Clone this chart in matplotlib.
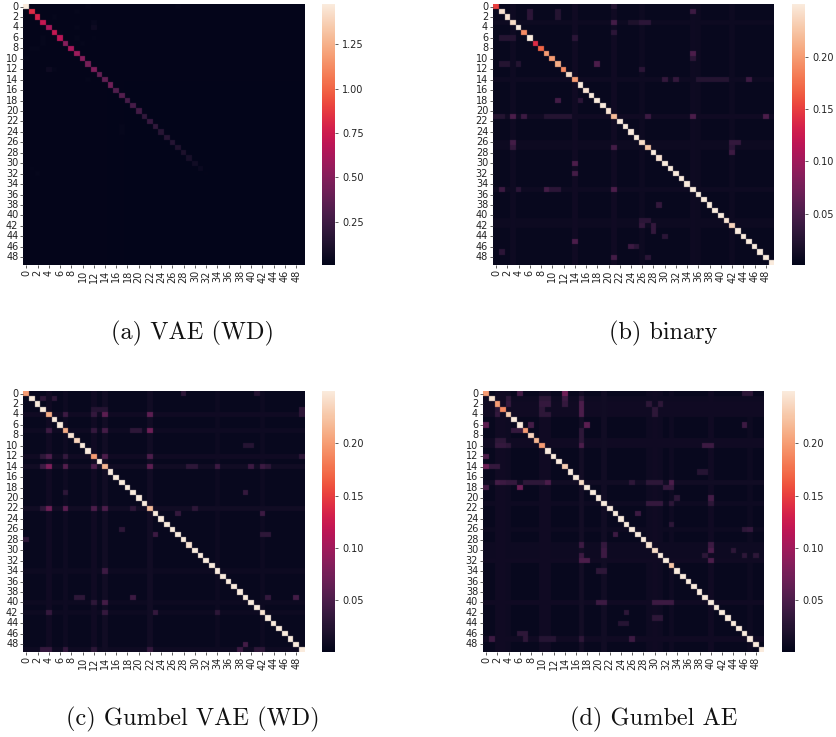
import numpy as np
import matplotlib
matplotlib.use("Agg")
import matplotlib.pyplot as plt
import seaborn as sns

N = 50
labels = list(range(N))

# ---- diagonal values
vae_diag = [1.477, .82, .78, .72, .62, .72, .68, .50, .62, .58, .50, .45, .48, .38, .37, .42, .32, .33, .28, .28,
            .26, .20, .22, .20, .16, .16, .15, .13, .12, .10, .07, .05, .012, .008, .007, .007, .006, .006, .006, .006,
            .006, .006, .006, .006, .006, .006, .006, .006, .006, .006]
binary_diag = [.15, .245, .245, .24, .25, .19, .25, .14, .17, .20, .20, .21, .19, .24, .20, .25, .245, .25, .25, .25,
               .245, .22, .25, .25, .25, .25, .24, .225, .25, .245, .25, .25, .25, .25, .25, .25, .25, .25, .25, .25,
               .25, .245, .235, .25, .25, .25, .25, .25, .25, .25]
gumbel_vae_diag = [.20, .25, .25, .25, .21, .25, .25, .21, .245, .235, .25, .25, .20, .25, .215, .25, .25, .25, .25, .25,
                   .25, .25, .22, .25, .25, .25, .25, .25, .25, .245, .25, .25, .25, .25, .25, .25, .25, .25, .25, .25,
                   .25, .25, .245, .25, .25, .25, .25, .25, .25, .25]
gumbel_ae_diag = [.20, .245, .20, .19, .23, .25, .25, .20, .235, .215, .20, .25, .25, .25, .23, .25, .25, .24, .25, .25,
                  .25, .25, .25, .25, .25, .25, .25, .25, .25, .245, .24, .25, .25, .225, .25, .25, .25, .25, .25, .25,
                  .25, .25, .25, .25, .25, .25, .25, .25, .25, .25]

# ---- background level of each panel
vae_back, binary_back, gumbel_vae_back, gumbel_ae_back = .006, .006, .006, .006

# ---- faintly lighter rows / columns seen in each panel (index, value)
vae_rows = [(r, .012) for r in (0, 1, 2, 3, 4, 5, 6, 7, 8, 9, 10, 11, 12, 13, 14)]
vae_cols = [(c, .012) for c in (0, 1, 2, 3, 4, 5, 6, 7, 8, 9, 10, 11, 12, 13, 14, 17)]
binary_rows = [(3, .009), (14, .01), (21, .011), (26, .009), (27, .009), (35, .01), (41, .009), (42, .009)]
binary_cols = [(3, .01), (14, .011), (21, .011), (26, .009), (35, .01), (36, .009), (42, .009)]
gumbel_vae_rows = [(4, .011), (7, .01), (12, .011), (14, .012), (22, .012), (34, .009), (40, .009), (42, .009), (49, .01)]
gumbel_vae_cols = [(4, .011), (7, .01), (12, .011), (14, .012), (22, .012), (34, .009), (42, .009)]
gumbel_ae_rows = [(1, .01), (2, .011), (3, .011), (4, .011), (9, .011), (10, .011), (17, .012), (21, .01), (26, .009),
                  (29, .01), (30, .01), (31, .01), (32, .011), (40, .011), (47, .011)]
gumbel_ae_cols = [(2, .011), (3, .011), (4, .01), (10, .011), (11, .011), (17, .013), (21, .012), (29, .01), (30, .011),
                  (31, .01), (33, .01), (40, .011), (47, .009)]

# ---- visible off-diagonal cells (row, column, value)
vae_cells = [(4, 12, .06), (3, 12, .035), (12, 4, .06), (5, 6, .025), (4, 9, .025), (8, 1, .025), (8, 2, .025), (1, 9, .025),
             (2, 5, .025), (6, 3, .025), (7, 3, .025), (6, 9, .025), (7, 10, .025), (12, 5, .025), (14, 11, .025), (0, 11, .025),
             (0, 27, .025), (23, 17, .025), (24, 17, .025), (32, 2, .025), (31, 1, .02), (10, 0, .025), (6, 12, .02)]
binary_cells = [(1, 6, .03), (2, 6, .03), (1, 11, .025), (2, 11, .025), (1, 35, .04), (0, 21, .025), (3, 21, .045),
                (3, 26, .03), (3, 27, .03), (3, 24, .02), (3, 25, .02), (5, 21, .03), (6, 1, .025), (6, 2, .025), (6, 3, .025),
                (6, 14, .03), (9, 35, .05), (10, 35, .03), (11, 1, .025), (11, 2, .025), (11, 4, .025), (11, 18, .05),
                (12, 26, .03), (14, 32, .035), (14, 30, .035), (14, 45, .04), (14, 36, .025), (14, 37, .025), (14, 38, .025),
                (14, 39, .025), (14, 40, .025), (14, 41, .025), (18, 11, .045), (18, 15, .03), (21, 3, .05), (21, 5, .04),
                (21, 0, .025), (21, 1, .025), (21, 27, .04), (21, 35, .05), (21, 48, .05), (21, 9, .025), (21, 10, .025),
                (21, 11, .025), (21, 12, .025), (21, 13, .025), (26, 3, .045), (27, 3, .035), (27, 21, .045), (26, 42, .035),
                (26, 43, .035), (27, 42, .03), (28, 42, .04), (30, 14, .05), (32, 14, .045), (35, 1, .04), (35, 4, .03),
                (35, 9, .045), (35, 10, .03), (35, 11, .03), (35, 21, .05), (38, 29, .035), (44, 30, .03), (45, 14, .05),
                (46, 24, .04), (46, 25, .03), (48, 21, .045), (48, 27, .03), (47, 1, .03), (42, 26, .035), (42, 28, .035),
                (43, 28, .035), (41, 26, .03), (41, 27, .03)]
gumbel_vae_cells = [(4, 12, .035), (4, 14, .06), (4, 22, .06), (3, 12, .025), (3, 13, .025), (3, 14, .025), (4, 7, .04),
                    (7, 4, .04), (7, 12, .035), (7, 14, .045), (7, 22, .07), (12, 4, .05), (12, 3, .03), (12, 7, .035),
                    (12, 14, .05), (12, 22, .05), (14, 4, .08), (14, 3, .04), (14, 7, .055), (14, 12, .05), (14, 22, .06),
                    (14, 29, .03), (14, 30, .03), (14, 34, .04), (14, 40, .04), (14, 42, .04), (14, 43, .03), (22, 4, .07),
                    (22, 7, .06), (22, 3, .03), (22, 12, .05), (22, 14, .05), (22, 19, .03), (22, 30, .03), (23, 42, .04),
                    (23, 27, .035), (27, 23, .04), (28, 0, .03), (34, 14, .04), (40, 14, .045), (39, 19, .04), (39, 9, .03),
                    (39, 10, .03), (40, 12, .03), (42, 14, .035), (42, 23, .035), (42, 4, .035), (42, 34, .03), (49, 3, .035),
                    (49, 4, .035), (49, 7, .035), (49, 12, .03), (49, 22, .035), (49, 38, .04), (49, 41, .03), (49, 42, .03),
                    (48, 39, .045), (39, 48, .045), (39, 43, .035), (19, 7, .03), (19, 39, .035), (7, 19, .03), (7, 20, .03),
                    (10, 39, .025), (10, 40, .025), (26, 17, .03), (27, 42, .03), (27, 43, .03), (4, 49, .03), (12, 49, .03),
                    (3, 49, .03), (1, 3, .03), (1, 5, .03), (0, 28, .03), (0, 41, .025)]
gumbel_ae_cells = [(2, 17, .05), (3, 17, .05), (4, 17, .05), (1, 17, .03), (10, 17, .05), (9, 17, .03), (8, 17, .03), (7, 17, .03),
                   (0, 14, .07), (0, 6, .045), (1, 14, .04), (2, 14, .035), (6, 18, .06), (6, 0, .06), (14, 0, .07), (12, 0, .05),
                   (14, 1, .035), (14, 2, .035), (18, 0, .045), (18, 6, .07), (17, 2, .045), (17, 3, .04), (17, 4, .035),
                   (17, 5, .035), (17, 11, .05), (17, 7, .03), (17, 8, .03), (17, 9, .03), (17, 10, .03), (17, 33, .05),
                   (18, 32, .035), (18, 33, .035), (17, 26, .03), (17, 29, .03), (17, 30, .03), (17, 31, .03), (6, 8, .045),
                   (7, 5, .035), (7, 6, .035), (2, 4, .035), (1, 4, .03), (4, 2, .035), (3, 2, .03), (1, 10, .03), (1, 11, .03),
                   (2, 10, .035), (2, 11, .035), (3, 10, .03), (4, 10, .03), (4, 11, .03), (10, 2, .035), (10, 3, .035),
                   (9, 2, .03), (9, 3, .03), (10, 4, .03), (32, 17, .05), (32, 18, .05), (29, 17, .04), (31, 17, .04),
                   (30, 21, .04), (31, 21, .04), (29, 21, .035), (30, 40, .05), (29, 40, .04), (32, 40, .05), (31, 39, .03),
                   (40, 30, .04), (40, 31, .04), (40, 32, .04), (40, 33, .04), (40, 20, .04), (40, 21, .04), (21, 30, .035),
                   (21, 31, .035), (21, 29, .035), (20, 40, .045), (21, 40, .03), (21, 33, .03), (20, 34, .03), (27, 23, .04),
                   (23, 27, .04), (34, 20, .03), (34, 21, .03), (47, 1, .04), (46, 6, .03), (46, 7, .03), (47, 7, .03),
                   (47, 26, .04), (47, 17, .03), (47, 10, .025), (47, 11, .025), (47, 12, .025), (42, 25, .03), (43, 30, .03),
                   (43, 31, .03), (44, 24, .025), (44, 25, .025), (26, 47, .035), (26, 46, .03), (4, 30, .03), (3, 30, .03),
                   (2, 29, .03), (2, 31, .03), (6, 46, .04), (0, 46, .03), (0, 47, .03), (15, 38, .025), (15, 39, .025),
                   (10, 39, .04), (10, 40, .04), (31, 48, .03), (31, 46, .03), (30, 44, .03), (25, 33, .03)]

captions = ["(a) VAE (WD)", "(b) binary", "(c) Gumbel VAE (WD)", "(d) Gumbel AE"]
limits = [(.0056, 1.477), (.001, .2503), (.0006, .25), (.0006, .25)]
ticks = [[.25, .5, .75, 1.0, 1.25], [.05, .10, .15, .20], [.05, .10, .15, .20], [.05, .10, .15, .20]]


def build(diag, back, rows, cols, cells):
    m = np.full((N, N), float(back))
    for r, v in rows:
        m[r, :] = np.maximum(m[r, :], v)
    for c, v in cols:
        m[:, c] = np.maximum(m[:, c], v)
    for r, c, v in cells:
        m[r, c] = v
    m[np.arange(N), np.arange(N)] = diag
    return m


matrices = [build(vae_diag, vae_back, vae_rows, vae_cols, vae_cells),
            build(binary_diag, binary_back, binary_rows, binary_cols, binary_cells),
            build(gumbel_vae_diag, gumbel_vae_back, gumbel_vae_rows, gumbel_vae_cols, gumbel_vae_cells),
            build(gumbel_ae_diag, gumbel_ae_back, gumbel_ae_rows, gumbel_ae_cols, gumbel_ae_cells)]

W, H = 837, 737
fig = plt.figure(figsize=(W / 100, H / 100), dpi=100)


def box(x0, y0, x1, y1):
    return [x0 / W, 1 - y1 / H, (x1 - x0) / W, (y1 - y0) / H]


def soften(image, dpi):
    # the reference is a resampled raster: a slight blur gives the same soft cell edges
    kernel = np.array([.1, .8, .1])
    out = image.astype(float)
    for axis in (0, 1):
        out = np.apply_along_axis(lambda v: np.convolve(np.pad(v, 1, mode="edge"), kernel, mode="valid"), axis, out)
    return out, 0, 0


heat_boxes = [(23.5, 4, 304.5, 265), (493.3, 4, 774.3, 265), (23.5, 391, 304.5, 652), (483.3, 391, 764.3, 652)]
cbar_x = [(322.3, 335), (792.3, 805), (322.3, 335), (782.3, 795)]
cap_xy = [(193, 333), (663.5, 333), (193, 719), (653.5, 719)]

for m, hb, cx, (lo, hi), tk, cap, (tx, ty) in zip(matrices, heat_boxes, cbar_x, limits, ticks, captions, cap_xy):
    ax = fig.add_axes(box(*hb))
    cax = fig.add_axes(box(cx[0], hb[1], cx[1], hb[3]))
    sns.heatmap(m, ax=ax, cbar_ax=cax, vmin=lo, vmax=hi, cmap="rocket", xticklabels=labels, yticklabels=labels,
                cbar_kws={"ticks": tk})
    ax.collections[0].set_agg_filter(soften)
    ax.set_xticks(np.arange(0, N, 2) + .5, labels[::2], rotation=90, fontsize=7)
    ax.set_yticks(np.arange(0, N, 2) + .5, labels[::2], rotation=0, fontsize=7)
    ax.tick_params(length=2.5, width=.6, pad=1.2, color="#444444", labelcolor="#222222")
    for s in ax.spines.values():
        s.set_visible(False)
    cax.tick_params(length=2.5, width=.6, pad=2.5, labelsize=7, color="#444444", labelcolor="#222222")
    cax.set_yticklabels([f"{t:.2f}" for t in tk])
    fig.text(tx / W, 1 - ty / H, cap, family="cmr10", fontsize=17.5, ha="center", va="center", color="#111111")

fig.savefig("out.png", dpi=100)
